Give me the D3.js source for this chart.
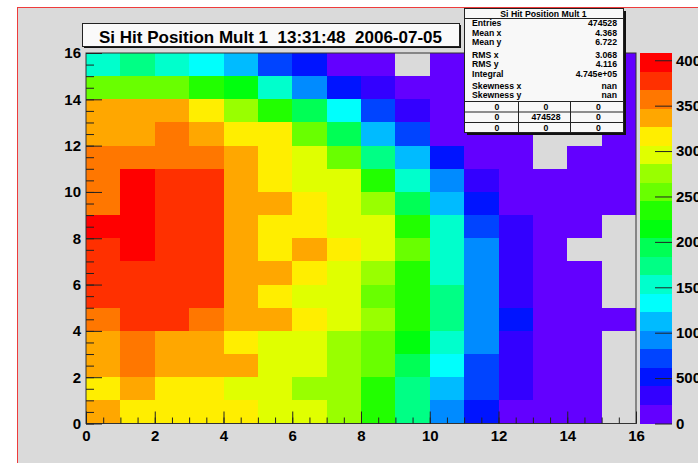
<!DOCTYPE html>
<html>
<head>
<meta charset="utf-8">
<script src="https://cdn.jsdelivr.net/npm/d3@7"></script>
<style>
  body { margin: 0; background: #ffffff; }
  svg { display: block; font-family: "Liberation Sans", Arial, Helvetica, sans-serif; }
</style>
</head>
<body>
<svg id="chart" width="698" height="463"></svg>
<script>
// ---- data -------------------------------------------------------------
const titleText = "Si Hit Position Mult 1  13:31:48  2006-07-05";

// Bin counts, one row per y bin, listed from y = 15 (top) down to y = 0.
// Each row holds the 16 x bins (x = 0 .. 15). Zero means an empty bin.
const countsTopDown = [
  [1540, 1720, 1510, 1320, 1110,  730,  500,  140,   90,    0,   60,   50,   40,   30,   20,   10],
  [2540, 2570, 2530, 2360, 2150, 1550,  920,  520,  310,  170,   80,   60,   40,   30,   20,   20],
  [3380, 3350, 3390, 3150, 2770, 2330, 1950, 1310,  700,  290,  120,   70,   50,   30,   30,   20],
  [3400, 3370, 3590, 3360, 3180, 3140, 2560, 1930, 1100,  730,  150,   80,   40,    0,    0,   30],
  [3570, 3550, 3600, 3580, 3350, 3170, 2960, 2530, 1740, 1130,  500,  110,   60,    0,   40,   30],
  [3560, 3990, 3760, 3790, 3380, 3160, 2940, 2970, 2350, 1520,  920,  290,  100,   50,   60,   40],
  [3580, 4080, 3780, 3750, 3360, 3390, 3150, 2950, 2750, 1950, 1120,  520,  140,   70,   60,   30],
  [3990, 3970, 3770, 3780, 3370, 3170, 3140, 2960, 2940, 2330, 1540,  720,  310,   90,   50,    0],
  [3780, 3960, 3790, 3760, 3390, 3150, 3380, 3170, 2950, 2560, 1530,  930,  300,   60,    0,    0],
  [3770, 3790, 3770, 3760, 3360, 3380, 3160, 2940, 2760, 2340, 1510,  900,  290,   80,   40,    0],
  [3760, 3780, 3790, 3770, 3350, 3170, 2950, 2970, 2560, 2350, 1720,  920,  320,  100,   50,    0],
  [3580, 3770, 3760, 3560, 3370, 3350, 3150, 2960, 2740, 2340, 1750,  910,  490,  110,   70,   40],
  [3390, 3570, 3380, 3360, 3180, 2950, 2940, 2750, 2560, 2150, 1540,  930,  310,   90,   40,    0],
  [3370, 3580, 3390, 3370, 3350, 2960, 2930, 2770, 2540, 1940, 1330,  710,  300,   80,   30,    0],
  [3160, 3380, 3150, 3170, 2950, 2960, 2760, 2740, 2350, 1730, 1140,  700,  290,   90,   40,    0],
  [3370, 3150, 3170, 3160, 3140, 2970, 2950, 2740, 2330, 1720,  920,  500,  120,   60,   30,    0]
];

const xTickLabels = [0, 2, 4, 6, 8, 10, 12, 14, 16];
const yTickLabels = [0, 2, 4, 6, 8, 10, 12, 14, 16];
const zTickLabels = [0, 500, 1000, 1500, 2000, 2500, 3000, 3500, 4000];

const statsTitle = "Si Hit Position Mult 1";
const statsLabels = ["Entries", "Mean x", "Mean y", "RMS x", "RMS y", "Integral", "Skewness x", "Skewness y"];
const statsValues = ["474528", "4.368", "6.722", "3.068", "4.116", "4.745e+05", "nan", "nan"];
const statsTable = [["0", "0", "0"], ["0", "474528", "0"], ["0", "0", "0"]];

// ---- layout -----------------------------------------------------------
const nx = countsTopDown[0].length, ny = countsTopDown.length;
const frame = { left: 86, right: 636, top: 53, bottom: 423.5 };
const pal = { left: 640, right: 672 };
const nLevels = 20;

const svg = d3.select("#chart");

// canvas with its red border
svg.append("rect").attr("x", 17.5).attr("y", 7.5).attr("width", 700).attr("height", 470)
  .attr("fill", "#dadada").attr("stroke", "#ee3b3b").attr("stroke-width", 1);

// cells
const cells = [];
countsTopDown.forEach((row, r) => {
  const iy = ny - 1 - r;
  row.forEach((v, ix) => cells.push({ ix, iy, v }));
});
const zmax = d3.max(cells, d => d.v);

// rainbow palette: 50 hues from violet to red, sampled at 20 contour levels
const paletteColors = d3.range(nLevels).map(i => {
  const j = Math.floor((i + 0.99) * 50 / nLevels);
  const hue = 280 - (j + 1) * 5.6;
  return d3.hsl(hue, 1, 0.5).formatHex();
});

const x = d3.scaleLinear([0, nx], [frame.left, frame.right]);
const y = d3.scaleLinear([0, ny], [frame.bottom, frame.top]);
const z = d3.scaleLinear([0, zmax], [frame.bottom, frame.top]);
const color = d3.scaleQuantize([0, zmax], paletteColors);

svg.append("g").attr("shape-rendering", "crispEdges")
  .selectAll("rect").data(cells.filter(d => d.v > 0)).join("rect")
  .attr("x", d => x(d.ix))
  .attr("y", d => y(d.iy + 1))
  .attr("width", d => x(d.ix + 1) - x(d.ix))
  .attr("height", d => y(d.iy) - y(d.iy + 1))
  .attr("fill", d => color(d.v));

// frame outline
svg.append("rect").attr("x", frame.left).attr("y", frame.top)
  .attr("width", frame.right - frame.left).attr("height", frame.bottom - frame.top)
  .attr("fill", "none").attr("stroke", "#333").attr("stroke-width", 1);

function styleAxis(g, size) {
  g.attr("font-family", null).attr("font-size", null);
  g.selectAll("text").attr("font-size", size).attr("font-weight", "bold").attr("fill", "#000");
  g.selectAll("line").attr("stroke", "#222");
  g.select(".domain").remove();
}

// x axis (ticks point into the frame)
svg.append("g").attr("transform", `translate(0,${frame.bottom})`)
  .call(d3.axisBottom(x).tickValues(d3.range(0, nx + 0.01, 0.5)).tickSize(-6).tickFormat(""))
  .call(g => styleAxis(g, 15));
svg.append("g").attr("transform", `translate(0,${frame.bottom})`)
  .call(d3.axisBottom(x).tickValues(xTickLabels).tickSize(-12).tickPadding(7).tickFormat(d3.format("d")))
  .call(g => styleAxis(g, 15));

// y axis
svg.append("g").attr("transform", `translate(${frame.left},0)`)
  .call(d3.axisLeft(y).tickValues(d3.range(0, ny + 0.01, 0.5)).tickSize(-8).tickFormat(""))
  .call(g => styleAxis(g, 15));
svg.append("g").attr("transform", `translate(${frame.left},0)`)
  .call(d3.axisLeft(y).tickValues(yTickLabels).tickSize(-16).tickPadding(5).tickFormat(d3.format("d")))
  .call(g => styleAxis(g, 15));

// colour palette bar
const dz = zmax / nLevels;
svg.append("g").attr("shape-rendering", "crispEdges")
  .selectAll("rect").data(d3.range(nLevels)).join("rect")
  .attr("x", pal.left)
  .attr("y", i => z((i + 1) * dz))
  .attr("width", pal.right - pal.left)
  .attr("height", i => z(i * dz) - z((i + 1) * dz))
  .attr("fill", i => paletteColors[i]);

svg.append("g").attr("transform", `translate(${pal.right},0)`)
  .call(d3.axisRight(z).tickValues(zTickLabels).tickSize(-17).tickPadding(4).tickFormat(d3.format("d")))
  .call(g => styleAxis(g, 15));

// title box
const tb = { x: 82, y: 23, w: 377, h: 23 };
svg.append("rect").attr("x", tb.x + 2).attr("y", tb.y + 2).attr("width", tb.w).attr("height", tb.h).attr("fill", "#111");
svg.append("rect").attr("x", tb.x + 0.5).attr("y", tb.y + 0.5).attr("width", tb.w).attr("height", tb.h)
  .attr("fill", "#fafafa").attr("stroke", "#222");
svg.append("text").attr("x", tb.x + tb.w / 2).attr("y", tb.y + 19.5)
  .attr("text-anchor", "middle").attr("font-size", 17).attr("font-weight", "bold")
  .style("white-space", "pre").text(titleText);

// statistics box
const sb = { x: 464, y: 8, w: 159, h: 124 };
svg.append("rect").attr("x", sb.x + 3).attr("y", sb.y + 3).attr("width", sb.w).attr("height", sb.h).attr("fill", "#111");
svg.append("rect").attr("x", sb.x + 0.5).attr("y", sb.y + 0.5).attr("width", sb.w).attr("height", sb.h)
  .attr("fill", "#f8f8f8").attr("stroke", "#222");
const st = svg.append("g").attr("font-size", 8.7).attr("font-weight", "bold").attr("fill", "#000");
st.append("text").attr("x", sb.x + sb.w / 2).attr("y", sb.y + 8.5).attr("text-anchor", "middle").text(statsTitle);
st.append("line").attr("x1", sb.x).attr("x2", sb.x + sb.w).attr("y1", sb.y + 10.5).attr("y2", sb.y + 10.5).attr("stroke", "#222");
const rowY = [25.5, 36, 44.5, 57.5, 67, 77, 88.5, 98];
statsLabels.forEach((lab, i) => {
  st.append("text").attr("x", sb.x + 8).attr("y", rowY[i]).text(lab);
  st.append("text").attr("x", sb.x + sb.w - 6).attr("y", rowY[i]).attr("text-anchor", "end").text(statsValues[i]);
});
const tblTop = 101, tblRow = 10.5;
const colEdges = [sb.x, 518, 570, sb.x + sb.w];
[0, 1, 2].forEach(k => st.append("line").attr("x1", sb.x).attr("x2", sb.x + sb.w)
  .attr("y1", tblTop + k * tblRow + 0.5).attr("y2", tblTop + k * tblRow + 0.5).attr("stroke", "#222"));
[1, 2].forEach(k => st.append("line").attr("x1", colEdges[k] + 0.5).attr("x2", colEdges[k] + 0.5)
  .attr("y1", tblTop).attr("y2", sb.y + sb.h).attr("stroke", "#222"));
statsTable.forEach((row, r) => row.forEach((v, c) => {
  st.append("text").attr("x", (colEdges[c] + colEdges[c + 1]) / 2 + (c === 0 ? 6 : 2))
    .attr("y", tblTop + r * tblRow + 8.5).attr("text-anchor", "middle").text(v);
}));
</script>
</body>
</html>
